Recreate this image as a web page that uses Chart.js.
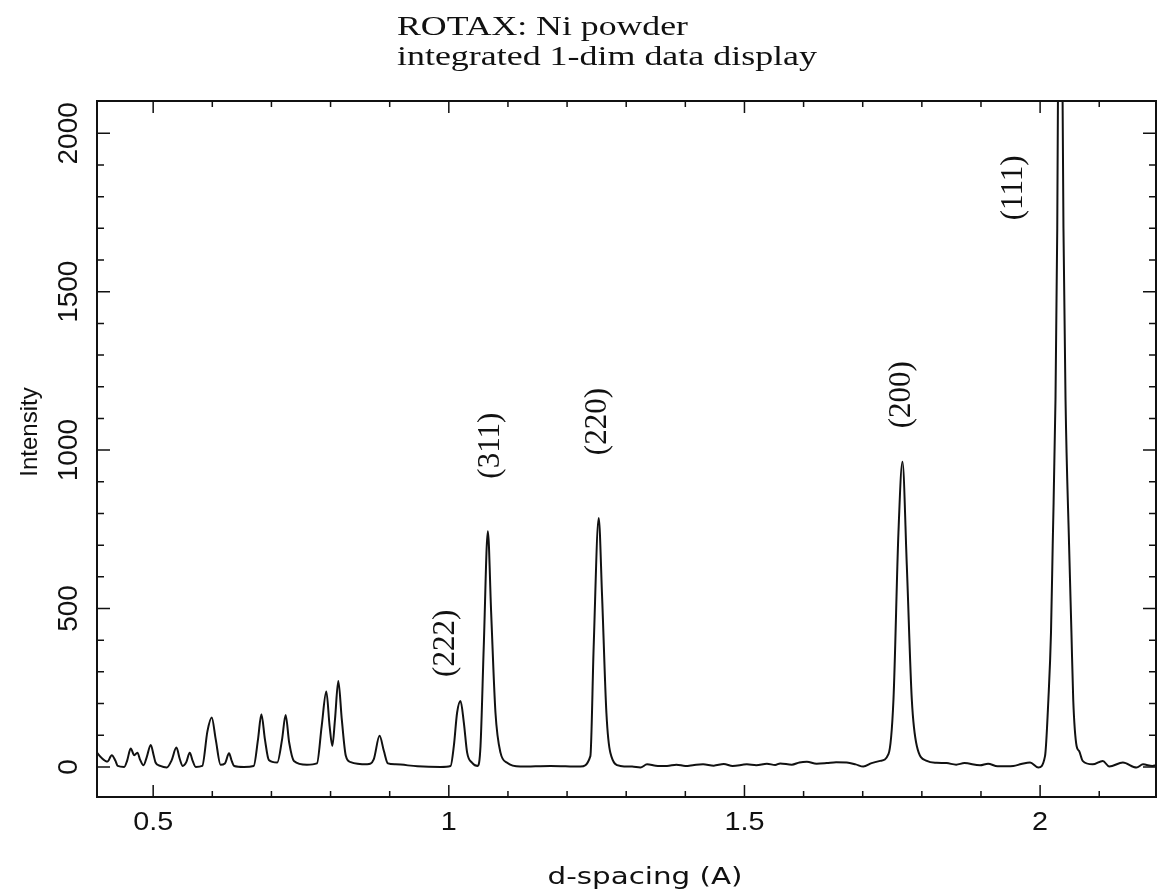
<!DOCTYPE html>
<html>
<head>
<meta charset="utf-8">
<title>ROTAX: Ni powder</title>
<script src="https://cdn.jsdelivr.net/npm/chart.js@4.4.1/dist/chart.umd.min.js"></script>
<style>
  html, body { margin: 0; padding: 0; background: #fff; }
  #wrap { position: relative; width: 1169px; height: 894px; }
</style>
</head>
<body>
<div id="wrap"><canvas id="myChart"></canvas></div>
<script>
// d-spacing (A) of each point
var dSpacing = [
  0.405, 0.413, 0.4227, 0.430, 0.436, 0.440, 0.451, 0.456, 0.462, 0.468,
  0.4734, 0.478, 0.4836, 0.489, 0.4959, 0.501, 0.504, 0.512, 0.523, 0.531,
  0.5393, 0.545, 0.550, 0.556, 0.5618, 0.567, 0.572, 0.583, 0.5918, 0.599,
  0.6058, 0.614, 0.6213, 0.6283, 0.633, 0.637, 0.6535, 0.670, 0.6773, 0.683,
  0.689, 0.6956, 0.7098, 0.718, 0.724, 0.730, 0.738, 0.760, 0.777, 0.785,
  0.7928, 0.7984, 0.803, 0.8075, 0.8131, 0.819, 0.8258, 0.834, 0.862, 0.873,
  0.8829, 0.8902, 0.897, 0.910, 0.947, 0.986, 1.003, 1.0085, 1.014, 1.0198,
  1.0254, 1.031, 1.0395, 1.049, 1.0536, 1.0591, 1.066, 1.0716, 1.0789, 1.0874,
  1.0987, 1.121, 1.172, 1.2225, 1.2394, 1.245, 1.2535, 1.2592, 1.2665, 1.2732,
  1.290, 1.310, 1.324, 1.3353, 1.350, 1.369, 1.385, 1.400, 1.415, 1.430,
  1.448, 1.465, 1.480, 1.504, 1.520, 1.538, 1.552, 1.5605, 1.580, 1.593,
  1.6056, 1.622, 1.639, 1.655, 1.673, 1.688, 1.701, 1.715, 1.7295, 1.7435,
  1.752, 1.7604, 1.7672, 1.7746, 1.783, 1.7915, 1.8084, 1.825, 1.842, 1.858,
  1.872, 1.8984, 1.912, 1.928, 1.9547, 1.968, 1.983, 1.997, 2.0083, 2.014,
  2.0184, 2.0213, 2.026, 2.029, 2.031, 2.034, 2.037, 2.0395, 2.043, 2.049,
  2.053, 2.056, 2.0617, 2.066, 2.072, 2.089, 2.106, 2.117, 2.140, 2.163,
  2.174, 2.190, 2.196
];

// counts at those points
var intensity = [
  45, 28, 17, 37, 20, 3, 0, 20, 58, 37,
  45, 22, 5, 30, 69, 35, 14, 3, -2, 20,
  61, 25, 3, 15, 45, 18, 0, 3, 113, 156,
  87, 7, 11, 43, 18, 3, 0, 3, 87, 166,
  87, 22, 14, 87, 164, 77, 19, 7, 11, 129,
  238, 129, 66, 150, 271, 150, 35, 15, 8, 24,
  98, 50, 11, 8, 2, 0, 3, 66, 171, 208,
  140, 45, 13, 3, 66, 381, 744, 487, 171, 45,
  13, 1, 3, 1, 34, 381, 786, 539, 171, 45,
  3, 1, -2, 8, 4, 3, 7, 3, 6, 8,
  4, 9, 3, 8, 5, 10, 6, 11, 7, 14,
  16, 10, 12, 15, 14, 8, 1, 12, 19, 40,
  213, 739, 963, 634, 213, 66, 19, 13, 12, 7,
  12, 5, 10, 2, 3, 9, 14, -2, 34, 213,
  423, 700, 1159, 1700, 2400, 3000, 2400, 1700, 1159, 700,
  423, 213, 66, 50, 19, 8, 19, 1, 14, -2,
  8, 3, 5
];

var xTicks = [0.5, 1, 1.5, 2];
var xTickLabels = ['0.5', '1', '1.5', '2'];
var yTicks = [0, 500, 1000, 1500, 2000];
var yTickLabels = ['0', '500', '1000', '1500', '2000'];

var peakNames = ['(222)', '(311)', '(220)', '(200)', '(111)'];
var peakLabelX = [0.9944, 1.0705, 1.2521, 1.7661, 1.9559];
var peakLabelY = [390, 1014, 1090, 1175, 1828];

var titleLines = ['ROTAX: Ni powder', 'integrated 1-dim data display'];
var xTitle = 'd-spacing (A)';
var yTitle = 'Intensity';

var ink = '#111';

// text helper: rotate, stretch horizontally (old plot fonts are wide)
function drawText(ctx, s, x, y, font, opts) {
  opts = opts || {};
  ctx.save();
  ctx.translate(x, y);
  if (opts.rot) ctx.rotate(opts.rot);
  ctx.font = font;
  var sx = opts.sx || 1;
  if (opts.width) sx = opts.width / ctx.measureText(s).width;
  ctx.scale(sx, 1);
  ctx.textAlign = opts.align || 'center';
  ctx.textBaseline = opts.base || 'middle';
  ctx.fillStyle = ink;
  ctx.fillText(s, 0, 0);
  ctx.restore();
}

var framePlugin = {
  id: 'frame',
  afterDraw: function(chart) {
    var ctx = chart.ctx, a = chart.chartArea;
    var xs = chart.scales.x, ys = chart.scales.y;

    ctx.save();
    ctx.strokeStyle = ink;
    ctx.lineWidth = 2;
    ctx.strokeRect(a.left, a.top, a.right - a.left, a.bottom - a.top);

    // inward ticks on all four sides
    ctx.lineWidth = 1.5;
    ctx.beginPath();
    for (var i = 5; i <= 21; i++) {
      var px = xs.getPixelForValue(i / 10);
      var len = (i % 5 === 0) ? 12 : 6;
      ctx.moveTo(px, a.bottom); ctx.lineTo(px, a.bottom - len);
      ctx.moveTo(px, a.top); ctx.lineTo(px, a.top + len);
    }
    for (var j = 0; j <= 20; j++) {
      var py = ys.getPixelForValue(j * 100);
      var l2 = (j % 5 === 0) ? 13 : 7;
      ctx.moveTo(a.left, py); ctx.lineTo(a.left + l2, py);
      ctx.moveTo(a.right, py); ctx.lineTo(a.right - l2, py);
    }
    ctx.stroke();
    ctx.restore();

    // tick labels
    xTicks.forEach(function(v, k) {
      drawText(ctx, xTickLabels[k], xs.getPixelForValue(v), a.bottom + 33,
        '25px "Liberation Sans"', { sx: 1.15, base: 'alphabetic' });
    });
    yTicks.forEach(function(v, k) {
      drawText(ctx, yTickLabels[k], 69, ys.getPixelForValue(v),
        '28px "Liberation Sans"', { rot: -Math.PI / 2 });
    });

    // axis titles
    drawText(ctx, xTitle, 645, 884, '23px "DejaVu Sans"', { width: 195, base: 'alphabetic' });
    drawText(ctx, yTitle, 30, 432, '24px "Liberation Sans"', { rot: -Math.PI / 2 });

    // title, left aligned
    drawText(ctx, titleLines[0], 397, 35, '28px "Liberation Serif"', { width: 291, align: 'left', base: 'alphabetic' });
    drawText(ctx, titleLines[1], 397, 65, '28px "Liberation Serif"', { width: 420, align: 'left', base: 'alphabetic' });

    // reflection labels
    peakNames.forEach(function(name, k) {
      drawText(ctx, name, xs.getPixelForValue(peakLabelX[k]), ys.getPixelForValue(peakLabelY[k]),
        '31px "Liberation Serif"', { rot: -Math.PI / 2 });
    });
  }
};

var points = dSpacing.map(function(d, i) {
  return { x: d, y: intensity[i] };
});

var ctx = document.getElementById('myChart').getContext('2d');
var chart = new Chart(ctx, {
  type: 'line',
  data: {
    datasets: [{
      label: 'Ni powder',
      data: points,
      borderColor: ink,
      borderWidth: 2,
      pointRadius: 0,
      fill: false,
      cubicInterpolationMode: 'monotone'
    }]
  },
  options: {
    responsive: true,
    maintainAspectRatio: false,
    animation: false,
    layout: { padding: { left: 97, top: 101, right: 13, bottom: 97 } },
    plugins: {
      legend: { display: false },
      tooltip: { enabled: false }
    },
    scales: {
      x: { type: 'linear', min: 0.405, max: 2.196, display: false },
      y: { type: 'linear', min: -95, max: 2102, display: false }
    }
  },
  plugins: [framePlugin]
});
</script>
</body>
</html>
